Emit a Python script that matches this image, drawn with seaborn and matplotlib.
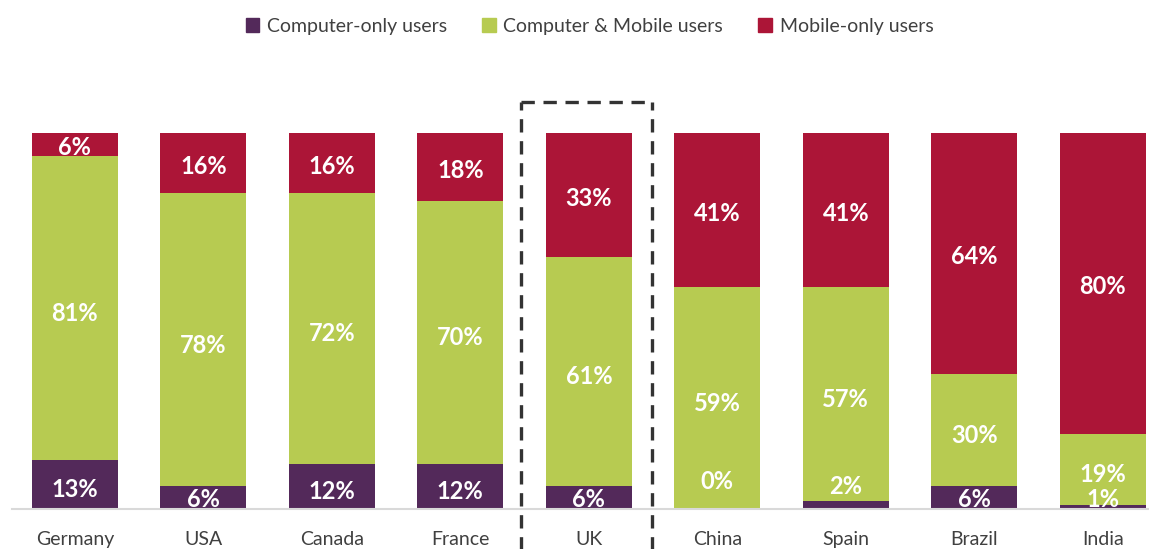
import pandas as pd
import seaborn as sns
import matplotlib.pyplot as plt
from matplotlib.patches import Patch

countries = ["Germany", "USA", "Canada", "France", "UK", "China", "Spain", "Brazil", "India"]
computer_only = [13, 6, 12, 12, 6, 0, 2, 6, 1]
computer_mobile = [81, 78, 72, 70, 61, 59, 57, 30, 19]
mobile_only = [6, 16, 16, 18, 33, 41, 41, 64, 80]
series_names = ["Computer-only users", "Computer & Mobile users", "Mobile-only users"]

colors = ["#53295a", "#b7cb51", "#ac1537"]

sns.set_theme(style="white")
plt.rcParams['font.family'] = ['Lato', 'DejaVu Sans']

df = pd.DataFrame({"country": countries, "c": computer_only, "cm": computer_mobile, "m": mobile_only})
df["lvl1"] = df["c"]
df["lvl2"] = df["c"] + df["cm"]
df["lvl3"] = df["lvl2"] + df["m"]

fig = plt.figure(figsize=(11.49, 5.49), dpi=100)
ax = fig.add_axes([0.0104, 0.0729, 0.9896, 0.6849])

# stacked bars: draw tallest first, then overlay
for col, colr in zip(["lvl3", "lvl2", "lvl1"], colors[::-1]):
    sns.barplot(data=df, x="country", y=col, color=colr, width=0.67, ax=ax,
                saturation=1, edgecolor="none")

ax.set_xlim(-0.49, 8.36)
ax.set_ylim(0, 100)
ax.set_xlabel("")
ax.set_ylabel("")
ax.set_yticks([])
sns.despine(ax=ax, left=True)
ax.spines["bottom"].set_color("#d9d9d9")
ax.spines["bottom"].set_linewidth(1.5)
ax.tick_params(axis="x", length=0, labelsize=14, labelcolor="#404040", pad=16)

# labels (a few nudged like the original)
nudge = {"China": 7.4, "Spain": 6.0}
off = -1.4
kw = dict(ha="center", va="center", color="white", fontsize=17, fontweight="bold", zorder=5)
for i, row in df.iterrows():
    y1 = max(row["c"] / 2 + off, 2.6)
    y1 = nudge.get(row["country"], y1 + off * 0) if row["country"] in nudge else y1
    ax.text(i, y1, f"{row['c']}%", **kw)
    ax.text(i, row["c"] + row["cm"] / 2 + off, f"{row['cm']}%", **kw)
    ax.text(i, row["lvl2"] + row["m"] / 2 + off + 0.5, f"{row['m']}%", **kw)

# dashed highlight around UK
dash = dict(color="#333333", lw=2.4, ls=(0, (4, 2.6)), clip_on=False, zorder=6)
ax.plot([3.47, 3.47], [-11, 108.2], **dash)
ax.plot([4.49, 4.49], [-11, 108.2], **dash)
ax.plot([3.47, 4.49], [108.2, 108.2], **dash)

handles = [Patch(color=c) for c in colors]
fig.legend(handles, series_names, loc="center", bbox_to_anchor=(0.513, 0.952), ncol=3,
           frameon=False, fontsize=14, handlelength=0.7, handleheight=0.7,
           handletextpad=0.4, columnspacing=1.8, labelcolor="#404040")

fig.savefig("out.png", dpi=100)
